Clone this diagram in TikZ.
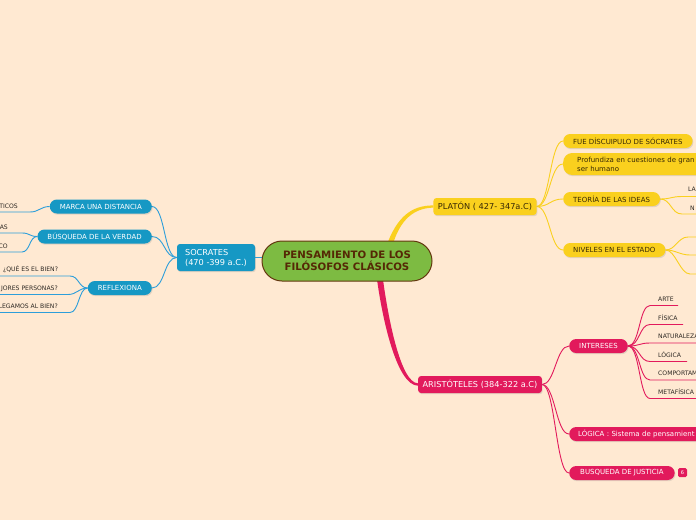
\documentclass[tikz,border=0pt]{standalone}
\usepackage{fontspec}
\setmainfont{DejaVu Sans}
\usetikzlibrary{shadows}
\definecolor{bg}{RGB}{255,233,210}
\definecolor{sblue}{RGB}{22,152,196}
\definecolor{sline}{RGB}{45,158,218}
\definecolor{pyel}{RGB}{250,208,30}
\definecolor{apink}{RGB}{226,26,92}
\definecolor{cgreen}{RGB}{125,187,66}
\definecolor{cbrown}{RGB}{100,55,15}
\definecolor{ctext}{RGB}{85,40,5}
\definecolor{dtext}{RGB}{45,40,35}
\definecolor{ytext}{RGB}{55,40,5}
\pgfdeclarelayer{bgl}
\pgfsetlayers{bgl,main}
\begin{document}
\begin{tikzpicture}[x=1pt,y=-1pt,
 shd/.style={drop shadow={opacity=0.22,shadow xshift=0.8pt,shadow yshift=-1.2pt}},
 mainbox/.style={rounded corners=3pt, inner xsep=4.5pt, inner ysep=0pt, minimum height=17pt, font=\fontsize{8.2}{10}\selectfont, shd},
 pill/.style={rounded corners=7pt, minimum height=14pt, inner xsep=10pt, inner ysep=0pt, font=\fontsize{7}{9}\selectfont, shd},
 lbl/.style={inner sep=0pt, font=\fontsize{6.1}{7}\selectfont, text=dtext},
 bl/.style={draw=sline, line width=0.9pt},
 yl/.style={draw=pyel, line width=0.9pt},
 pl/.style={draw=apink, line width=0.9pt},
]
\clip (0,0) rectangle (696,520);
% ---------- nodes ----------
\node[draw=cbrown, line width=1pt, fill=cgreen, rounded corners=20pt, minimum width=170pt, minimum height=40pt, align=center, inner sep=0pt, font=\bfseries\fontsize{10.2}{12}\selectfont, text=ctext] (c) at (347,261) {PENSAMIENTO DE LOS\\FILÓSOFOS CLÁSICOS};

% Socrates
\node[mainbox, fill=sblue, text=white, align=left, minimum width=78pt, minimum height=27pt] (soc) at (216,257.5) {SOCRATES\\(470 -399 a.C.)};
\node[pill, fill=sblue, text=white, anchor=east] (marca) at (152,206.5) {MARCA UNA DISTANCIA};
\node[pill, fill=sblue, text=white, anchor=east] (busq) at (152,236.5) {BÚSQUEDA DE LA VERDAD};
\node[pill, fill=sblue, text=white, anchor=east] (refl) at (152,288) {REFLEXIONA};
\node[lbl, anchor=base east] (t1) at (18,208) {TICOS};
\node[lbl, anchor=base east] (t2) at (8,229) {AS};
\node[lbl, anchor=base east] (t3) at (8,248) {CO};
\node[lbl, anchor=base west] (t4) at (3,271) {¿QUÉ ES EL BIEN?};
\node[lbl, anchor=base east] (t5) at (58,290) {JORES PERSONAS?};
\node[lbl, anchor=base east] (t6) at (58,308) {LEGAMOS AL BIEN?};
\coordinate (t1a) at (30,212);   \coordinate (t1b) at (-2,212);
\coordinate (t2a) at (22,233);   \coordinate (t2b) at (-2,233);
\coordinate (t3a) at (22,252);   \coordinate (t3b) at (-2,252);
\coordinate (t4a) at (70,276);   \coordinate (t4b) at (-2,276);
\coordinate (t5a) at (68,294.5); \coordinate (t5b) at (-2,294.5);
\coordinate (t6a) at (70,312.5); \coordinate (t6b) at (-2,312.5);

% Platon
\node[mainbox, fill=pyel, text=ytext] (pla) at (485,206.5) {PLATÓN ( 427- 347a.C)};
\node[pill, fill=pyel, text=ytext, anchor=west] (fue) at (563,141) {FUE DÍSCUIPULO DE SÓCRATES};
\node[pill, fill=pyel, text=ytext, anchor=west, rounded corners=9pt, minimum height=22pt, inner xsep=14pt, text width=150pt, align=left] (prof) at (563,164) {Profundiza en cuestiones de gran\\ser humano};
\node[pill, fill=pyel, text=ytext, anchor=west] (teo) at (563,199) {TEORÍA DE LAS IDEAS};
\node[pill, fill=pyel, text=ytext, anchor=west] (niv) at (563,250) {NIVELES EN EL ESTADO};
\node[lbl, anchor=base west] (la) at (688,191) {LA};
\node[lbl, anchor=base west] (nn) at (690,210) {N};
\coordinate (laa) at (682,196.5); \coordinate (lab) at (700,196.5);
\coordinate (nna) at (682,214);   \coordinate (nnb) at (700,214);
\coordinate (n1a) at (688,237);   \coordinate (n1b) at (700,237);
\coordinate (n2a) at (690,255);   \coordinate (n2b) at (700,255);
\coordinate (n3a) at (690,274);   \coordinate (n3b) at (700,274);

% Aristoteles
\node[mainbox, fill=apink, text=white] (ari) at (480,384.5) {ARISTÓTELES (384-322 a.C)};
\node[pill, fill=apink, text=white, anchor=west] (int) at (569,346) {INTERESES};
\node[pill, fill=apink, text=white, anchor=west, inner xsep=9pt, text width=140pt, align=left] (log) at (569,434) {LÓGICA : Sistema de pensamient};
\node[pill, fill=apink, text=white, anchor=west, inner xsep=11pt] (jus) at (569,473) {BUSQUEDA DE JUSTICIA};
\node[fill=apink, rounded corners=1.5pt, minimum size=9pt, inner sep=0pt, font=\fontsize{5}{5}\selectfont, text=white] (badge) at (682.5,472.5) {6};
\node[lbl, anchor=base west] (i1) at (658,301) {ARTE};
\node[lbl, anchor=base west] (i2) at (658,320) {FÍSICA};
\node[lbl, anchor=base west] (i3) at (658,338.5) {NATURALEZA};
\node[lbl, anchor=base west] (i4) at (658,357) {LÓGICA};
\node[lbl, anchor=base west] (i5) at (658,375.5) {COMPORTAM};
\node[lbl, anchor=base west] (i6) at (658,394) {METAFÍSICA};
\coordinate (i1a) at (650,305.5); \coordinate (i1b) at (678,305.5);
\coordinate (i2a) at (650,324.5); \coordinate (i2b) at (683,324.5);
\coordinate (i3a) at (650,343);   \coordinate (i3b) at (700,343);
\coordinate (i4a) at (650,361.5); \coordinate (i4b) at (687,361.5);
\coordinate (i5a) at (650,380);   \coordinate (i5b) at (700,380);
\coordinate (i6a) at (650,398.5); \coordinate (i6b) at (700,398.5);

% ---------- connectors (background layer) ----------
\begin{pgfonlayer}{bgl}
\clip (0,0) rectangle (696,520);
\fill[bg] (0,0) rectangle (696,520);
% main branches
\fill[pyel] (386,247) .. controls (397,216) and (412,205.4) .. ([yshift=1.1pt]pla.west) -- ([yshift=-1.1pt]pla.west) .. controls (414,208.2) and (400,219) .. (392,247) -- cycle;
\fill[apink] (376,272) .. controls (382,320) and (397,385.4) .. ([yshift=-1.2pt]ari.west) -- ([yshift=1.2pt]ari.west) .. controls (401,383) and (388,320) .. (382,272) -- cycle;
\draw[bl] (soc.east) -- (soc.east -| c.west);
% socrates
\foreach \n in {marca,busq,refl}{
  \draw[bl] (soc.west) .. controls +(-13,0) and +(13,0) .. (\n.east);
}
\draw[bl] (marca.west) .. controls +(-9,0) and +(9,0) .. (t1a) -- (t1b);
\draw[bl] (busq.west) .. controls +(-8,0) and +(8,0) .. (t2a) -- (t2b);
\draw[bl] (busq.west) .. controls +(-8,0) and +(8,0) .. (t3a) -- (t3b);
\draw[bl] (refl.west) .. controls +(-9,0) and +(9,0) .. (t4a) -- (t4b);
\draw[bl] (refl.west) .. controls +(-9,0) and +(9,0) .. (t5a) -- (t5b);
\draw[bl] (refl.west) .. controls +(-9,0) and +(9,0) .. (t6a) -- (t6b);
% platon
\foreach \n in {fue,prof,teo,niv}{
  \draw[yl] (pla.east) .. controls +(13,0) and +(-13,0) .. (\n.west);
}
\draw[yl] (teo.east) .. controls +(11,0) and +(-11,0) .. (laa) -- (lab);
\draw[yl] (teo.east) .. controls +(11,0) and +(-11,0) .. (nna) -- (nnb);
\draw[yl] (niv.east) .. controls +(10,0) and +(-10,0) .. (n1a) -- (n1b);
\draw[yl] (niv.east) .. controls +(10,0) and +(-10,0) .. (n2a) -- (n2b);
\draw[yl] (niv.east) .. controls +(10,0) and +(-10,0) .. (n3a) -- (n3b);
% aristoteles
\foreach \n in {int,log,jus}{
  \draw[pl] (ari.east) .. controls +(13,0) and +(-13,0) .. (\n.west);
}
\foreach \k in {1,...,6}{
  \draw[pl] (int.east) .. controls +(12,0) and +(-11,0) .. (i\k a) -- (i\k b);
}
\end{pgfonlayer}
\end{tikzpicture}
\end{document}
